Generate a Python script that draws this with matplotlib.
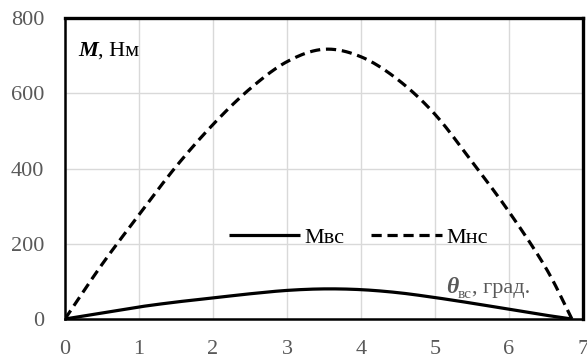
import numpy as np
import matplotlib
matplotlib.use("Agg")
import matplotlib.pyplot as plt
from matplotlib.transforms import offset_copy

theta = [0, 0.5, 1, 1.5, 2, 2.5, 3, 3.5, 4, 4.5, 5, 5.5, 6, 6.5, 6.85]
m_vs = [0, 16, 32, 45, 56, 67, 76, 80, 78, 70, 57, 42, 26, 10, 0]
m_ns = [0, 145, 277, 405, 517, 612, 684, 717, 697, 636, 544, 418, 285, 135, 0]
xticks = [0, 1, 2, 3, 4, 5, 6, 7]
yticks = [0, 200, 400, 600, 800]
labels = ["Мвс", "Мнс"]


def smooth(x, y, n=20):
    x = np.asarray(x, float)
    y = np.asarray(y, float)
    px = np.concatenate([[2 * x[0] - x[1]], x, [2 * x[-1] - x[-2]]])
    py = np.concatenate([[2 * y[0] - y[1]], y, [2 * y[-1] - y[-2]]])
    ox, oy = [], []
    for i in range(1, len(px) - 2):
        t = np.linspace(0, 1, n, endpoint=False)
        for arr, out in ((px, ox), (py, oy)):
            p0, p1, p2, p3 = arr[i - 1], arr[i], arr[i + 1], arr[i + 2]
            out.extend(0.5 * ((2 * p1) + (-p0 + p2) * t
                              + (2 * p0 - 5 * p1 + 4 * p2 - p3) * t ** 2
                              + (-p0 + 3 * p1 - 3 * p2 + p3) * t ** 3))
    ox.append(x[-1])
    oy.append(y[-1])
    return np.array(ox), np.array(oy)


plt.rcParams['font.family'] = ['Liberation Serif', 'DejaVu Serif']
fig = plt.figure(figsize=(5.87, 3.6), dpi=100)
ax = fig.add_axes([0.1107, 0.1139, 0.8825, 0.836])

gray = "#595959"
sx, sy = smooth(theta, m_vs)
ax.plot(sx, sy, color="black", lw=2.3, solid_capstyle="butt", label=labels[0], zorder=3)
dx, dy = smooth(theta, m_ns)
ax.plot(dx, dy, color="black", lw=2.3, linestyle=(0, (3.2, 1.8)), label=labels[1], zorder=3)

ax.set_xlim(0, 7)
ax.set_ylim(0, 800)
ax.set_xticks(xticks)
ax.set_yticks(yticks)
ax.grid(True, color="#d9d9d9", lw=1.0)
ax.set_axisbelow(True)
ax.tick_params(length=0, labelsize=16, colors=gray)
ax.tick_params(axis="y", pad=15)
ax.tick_params(axis="x", pad=15)
for name, s in ax.spines.items():
    s.set_color("black")
    s.set_linewidth(2.4 if name in ("top", "right") else 1.8)

fig.canvas.draw()
r = fig.canvas.get_renderer()


def chain(x, y, parts):
    trans = ax.transAxes
    dxp = 0.0
    for txt, kw, dy_pt in parts:
        t = ax.text(x, y, txt, transform=offset_copy(trans, fig=fig, x=dxp, y=dy_pt, units="points"),
                    va="baseline", ha="left", **kw)
        w = t.get_window_extent(renderer=r).width
        dxp += w * 72.0 / fig.dpi


chain(0.025, 0.875, [("M", dict(fontsize=16, fontweight="bold", fontstyle="italic"), 0),
                     (", Нм", dict(fontsize=16), 0)])

chain(0.735, 0.085, [("θ", dict(fontsize=17, fontweight="bold", fontstyle="italic", color=gray), 0),
                     ("вс", dict(fontsize=11, color=gray), -3),
                     (", град.", dict(fontsize=16, color=gray), 0)])

leg = ax.legend(loc="center", bbox_to_anchor=(0.567, 0.27), ncol=2, frameon=False,
                fontsize=16, handlelength=3.2, handletextpad=0.2, columnspacing=1.2)

fig.savefig("out.png", dpi=100)
